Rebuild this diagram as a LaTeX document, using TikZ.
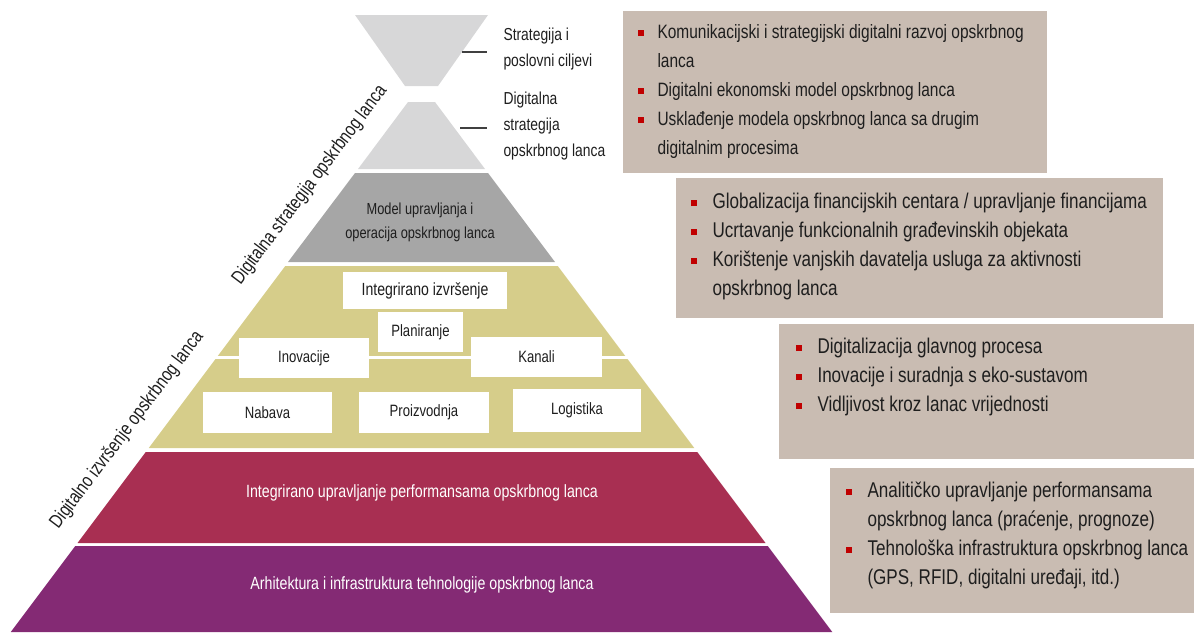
\documentclass[tikz,border=0pt]{standalone}
\usepackage{fontspec}
\setmainfont[FakeStretch=0.8]{Liberation Sans}
\usetikzlibrary{calc}

\definecolor{hglass}{RGB}{215,215,216}
\definecolor{modgray}{RGB}{166,166,166}
\definecolor{khaki}{RGB}{214,205,138}
\definecolor{perfred}{RGB}{168,47,82}
\definecolor{archpurple}{RGB}{132,42,116}
\definecolor{notebox}{RGB}{201,188,178}
\definecolor{bulred}{RGB}{192,0,0}
\definecolor{inkdark}{RGB}{30,30,30}

\newcommand{\bul}{\textcolor{bulred}{\rule[1.7pt]{4.5pt}{4.5pt}}}
\newcommand{\bi}{\makebox[16.5pt][l]{\bul}}

\tikzset{every picture/.style={line width=0.75pt}}
\tikzset{
  notebg/.style={fill=notebox,draw=none,inner sep=0pt,anchor=north west},
  notetext/.style={inner sep=0pt,anchor=north west,text=inkdark,font=\fontsize{14.5}{21.75}\selectfont},
  notetextbig/.style={notetext,font=\fontsize{16}{21.75}\selectfont},
  cell/.style={fill=white,draw=none,inner sep=0pt,text=inkdark,font=\fontsize{12.3}{14}\selectfont},
  bandtext/.style={inner sep=0pt,text=white,font=\fontsize{13.3}{16}\selectfont},
  sidetext/.style={inner sep=0pt,text=inkdark,rotate=53,font=\fontsize{14.4}{16}\selectfont},
  hglabel/.style={inner sep=0pt,anchor=west,align=left,text=inkdark,font=\fontsize{13}{19.5}\selectfont},
  tick/.style={draw={rgb,255:red,64;green,64;blue,64},line width=1.1pt,shorten >=12pt}
}

\begin{document}
\begin{tikzpicture}[x=0.75pt,y=0.75pt,yscale=-1,xscale=1]
\useasboundingbox (0,0) rectangle (1194,632);

%Shape: Hourglass top [id:hgtop]
\fill [hglass] (355,15) -- (488,15) -- (438,86) -- (405,86) -- cycle ;
%Shape: Hourglass bottom [id:hgbot]
\fill [hglass] (408,102) -- (435,102) -- (485,169) -- (358,169) -- cycle ;
%Shape: Layer model [id:laymodel]
\fill [modgray] (355,173) -- (488,173) -- (555,262) -- (288,262) -- cycle ;
%Shape: Layer execution [id:layexec]
\fill [khaki] (285.25,266) -- (557.75,266) -- (694.25,448) -- (148.75,448) -- cycle ;
\draw [white,line width=2pt] (150,357.5) -- (694,357.5) ;
%Shape: Layer performance [id:layperf]
\fill [perfred] (145.75,452) -- (697.25,452) -- (765.5,543) -- (77.5,543) -- cycle ;
%Shape: Layer architecture [id:layarch]
\fill [archpurple] (75.25,546) -- (767.75,546) -- (832.25,632) -- (10.75,632) -- cycle ;

% Text Node
\node [hglabel] (hgone) at (503,49) {Strategija i\\poslovni ciljevi};
% Text Node
\node [hglabel] (hgtwo) at (503,126) {Digitalna\\strategija\\opskrbnog lanca};
%Straight Lines [id:tickone]
\coordinate (hgoneedge) at (462,52);
\draw [tick] (hgoneedge) -- (hgoneedge -| hgone.west) ;
%Straight Lines [id:ticktwo]
\coordinate (hgtwoedge) at (460,128);
\draw [tick] (hgtwoedge) -- (hgtwoedge -| hgtwo.west) ;

% Text Node
\node [inner sep=0pt,align=center,text=inkdark,font=\fontsize{12}{18}\selectfont] (model) at (420,222) {Model upravljanja i\\operacija opskrbnog lanca};

% Execution cells
\node [cell,minimum width=123pt,minimum height=27.75pt,font=\fontsize{13.2}{14}\selectfont] (integ) at (425,290.5) {Integrirano izvršenje};
\node [cell,minimum width=63.75pt,minimum height=30pt] (plan) at (420.5,332) {Planiranje};
\node [cell,minimum width=97.5pt,minimum height=30pt] (inov) at (304,358) {Inovacije};
\node [cell,minimum width=98.25pt,minimum height=30pt] (kanal) at (536.5,357) {Kanali};
\node [cell,minimum width=96.75pt,minimum height=30.75pt] (nabava) at (267.5,412.5) {Nabava};
\node [cell,minimum width=97.5pt,minimum height=30.75pt] (proiz) at (424,412.5) {Proizvodnja};
\node [cell,minimum width=96pt,minimum height=32.25pt] (logist) at (577,410.5) {Logistika};

% Text Node
\node [bandtext] (perf) at (422,493) {Integrirano upravljanje performansama opskrbnog lanca};
% Text Node
\node [bandtext] (arch) at (422,585) {Arhitektura i infrastruktura tehnologije opskrbnog lanca};

% Text Node
\node [sidetext] (sidestrat) at (310,185) {Digitalna strategija opskrbnog lanca};
% Text Node
\node [sidetext] (sideexec) at (127,430) {Digitalno izvršenje opskrbnog lanca};

%Note boxes
\node [notebg,minimum width=318pt,minimum height=121.5pt] (noteone) at (622,10) {};
\node [notebg,minimum width=365.25pt,minimum height=105pt] (notetwo) at (675,177) {};
\node [notebg,minimum width=312pt,minimum height=101.25pt] (notethree) at (778,323) {};
\node [notebg,minimum width=273.75pt,minimum height=108.75pt] (notefour) at (829,467) {};

% Text Node
\node [notetext] (listone) at (637,17.7) {\begin{tabular}{@{}l@{}l@{}}
\makebox[15pt][l]{\bul} & Komunikacijski i strategijski digitalni razvoj opskrbnog\\
 & lanca\\
\makebox[15pt][l]{\bul} & Digitalni ekonomski model opskrbnog lanca\\
\makebox[15pt][l]{\bul} & Usklađenje modela opskrbnog lanca sa drugim\\
 & digitalnim procesima
\end{tabular}};
% Text Node
\node [notetextbig] (listtwo) at (690,187.7) {\begin{tabular}{@{}l@{}l@{}}
\bi & Globalizacija financijskih centara / upravljanje financijama\\
\bi & Ucrtavanje funkcionalnih građevinskih objekata\\
\bi & Korištenje vanjskih davatelja usluga za aktivnosti\\
 & opskrbnog lanca
\end{tabular}};
% Text Node
\node [notetextbig] (listthree) at (795,332.7) {\begin{tabular}{@{}l@{}l@{}}
\bi & Digitalizacija glavnog procesa\\
\bi & Inovacije i suradnja s eko-sustavom\\
\bi & Vidljivost kroz lanac vrijednosti
\end{tabular}};
% Text Node
\node [notetextbig] (listfour) at (845,476.7) {\begin{tabular}{@{}l@{}l@{}}
\bi & Analitičko upravljanje performansama\\
 & opskrbnog lanca (praćenje, prognoze)\\
\bi & Tehnološka infrastruktura opskrbnog lanca\\
 & (GPS, RFID, digitalni uređaji, itd.)
\end{tabular}};

\end{tikzpicture}
\end{document}
